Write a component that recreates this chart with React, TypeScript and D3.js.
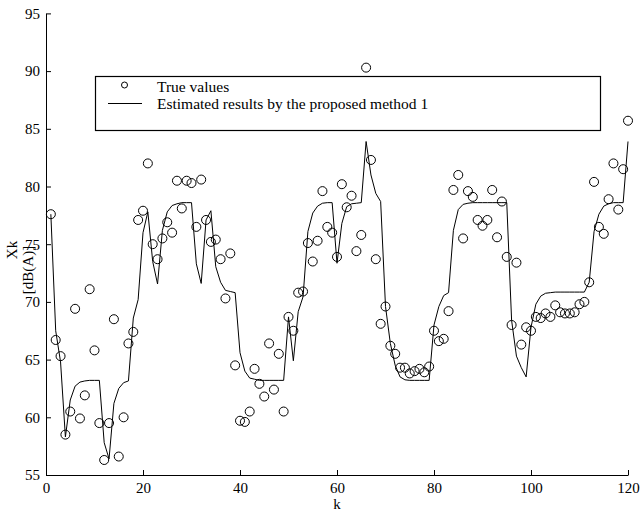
import React, { useEffect, useRef } from 'react';
import * as d3 from 'd3';

// sample index k = 1..120
const kValues: number[] = d3.range(1, 121);

const trueValues: number[] = [
    77.6, 66.7, 65.3, 58.5, 60.5, 69.4, 59.9, 61.9, 71.1, 65.8,
    59.5, 56.3, 59.5, 68.5, 56.6, 60.0, 66.4, 67.4, 77.1, 77.9,
    82.0, 75.0, 73.7, 75.5, 76.9, 76.0, 80.5, 78.1, 80.5, 80.3,
    76.5, 80.6, 77.1, 75.2, 75.4, 73.7, 70.3, 74.2, 64.5, 59.7,
    59.6, 60.5, 64.2, 62.9, 61.8, 66.4, 62.4, 65.5, 60.5, 68.7,
    67.5, 70.8, 70.9, 75.1, 73.5, 75.3, 79.6, 76.5, 76.0, 73.9,
    80.2, 78.2, 79.2, 74.4, 75.8, 90.3, 82.3, 73.7, 68.1, 69.6,
    66.2, 65.5, 64.3, 64.3, 63.8, 64.0, 64.2, 63.9, 64.4, 67.5,
    66.6, 66.8, 69.2, 79.7, 81.0, 75.5, 79.6, 79.1, 77.1, 76.6,
    77.1, 79.7, 75.6, 78.7, 73.9, 68.0, 73.4, 66.3, 67.8, 67.5,
    68.7, 68.6, 69.0, 68.7, 69.7, 69.1, 69.0, 69.0, 69.1, 69.8,
    70.0, 71.7, 80.4, 76.5, 75.9, 78.9, 82.0, 78.0, 81.5, 85.7
];

const estimatedValues: number[] = [
    77.6, 67.5, 64.8, 58.3, 61.5, 62.7, 63.05, 63.15, 63.2, 63.2,
    63.2, 57.8, 56.4, 61.2, 62.5, 63.0, 63.15, 68.6, 70.2, 76.0,
    77.8, 73.5, 71.55, 76.2, 77.8, 78.35, 78.5, 78.6, 78.6, 78.6,
    73.3, 71.6, 77.1, 77.9, 73.05, 71.7, 71.0, 70.9, 70.8, 65.6,
    64.0, 63.4, 63.3, 63.2, 63.2, 63.2, 63.2, 63.2, 63.2, 68.7,
    64.9, 69.15, 70.45, 76.1, 77.7, 78.3, 78.55, 78.6, 78.6, 73.35,
    76.8, 78.25, 78.5, 78.55, 78.6, 83.9, 81.0, 79.4, 78.7, 69.6,
    66.4, 64.5, 63.5, 63.25, 63.2, 63.2, 63.2, 63.2, 63.2, 68.0,
    69.6, 70.55, 70.8, 76.2, 78.0, 78.45, 78.55, 78.6, 78.6, 78.6,
    78.6, 78.6, 78.6, 78.6, 78.6, 68.4, 65.3, 64.3, 63.5, 67.8,
    69.8, 70.5, 70.75, 70.8, 70.85, 70.85, 70.85, 70.85, 70.85, 70.85,
    70.85, 71.7, 76.1, 77.6, 78.3, 78.5, 78.6, 78.6, 78.6, 83.9
];

const xTicks: number[] = [0, 20, 40, 60, 80, 100, 120];
const yTicks: number[] = [55, 60, 65, 70, 75, 80, 85, 90, 95];
const legendLabels: string[] = ['True values', 'Estimated results by the proposed method 1'];

const FONT = '"Liberation Serif", "Times New Roman", Times, serif';
const FONT_SIZE = '15px';

const Chart = () => {
    const ref = useRef<SVGSVGElement>(null);

    useEffect(() => {
        const width = 640;
        const height = 513;
        const margin = { left: 46, right: 12, top: 13.4, bottom: 38 };

        const x = d3.scaleLinear().domain([0, 120]).range([margin.left, width - margin.right]);
        const y = d3.scaleLinear().domain([55, 95]).range([height - margin.bottom, margin.top]);

        const svg = d3.select(ref.current);
        svg.selectAll('*').remove();
        svg.attr('width', width).attr('height', height)
            .attr('font-family', FONT)
            .style('font-family', FONT)
            .style('font-size', FONT_SIZE);

        svg.append('rect').attr('width', width).attr('height', height).attr('fill', 'white');

        // axes (ticks pointing inward, left and bottom only)
        const xAxis = svg.append('g')
            .attr('transform', `translate(0,${y(55)})`)
            .call(d3.axisBottom(x).tickValues(xTicks).tickSizeInner(-5).tickSizeOuter(0).tickPadding(7));
        const yAxis = svg.append('g')
            .attr('transform', `translate(${x(0)},0)`)
            .call(d3.axisLeft(y).tickValues(yTicks).tickSizeInner(-5).tickSizeOuter(0).tickPadding(6));

        [xAxis, yAxis].forEach(g => {
            g.attr('font-family', FONT).attr('font-size', FONT_SIZE);
            g.select('.domain').attr('stroke', '#000').attr('stroke-width', 1);
            g.selectAll('.tick line').attr('stroke', '#000');
            g.selectAll('.tick text').attr('fill', '#000');
        });

        // axis labels
        svg.append('text')
            .attr('x', x(60)).attr('y', 509)
            .attr('text-anchor', 'middle')
            .text('k');

        svg.append('text')
            .attr('transform', 'translate(17,250) rotate(-90)')
            .attr('text-anchor', 'middle')
            .text('Xk');
        svg.append('text')
            .attr('transform', 'translate(33,270) rotate(-90)')
            .attr('text-anchor', 'middle')
            .text('[dB(A)]');

        // estimated line
        const line = d3.line<number>()
            .x((d, i) => x(kValues[i]))
            .y(d => y(d));

        svg.append('path')
            .datum(estimatedValues)
            .attr('fill', 'none')
            .attr('stroke', '#000')
            .attr('stroke-width', 1)
            .attr('d', line);

        // true values
        svg.append('g')
            .selectAll('circle')
            .data(trueValues)
            .join('circle')
            .attr('cx', (d, i) => x(kValues[i]))
            .attr('cy', d => y(d))
            .attr('r', 4.5)
            .attr('fill', 'none')
            .attr('stroke', '#000')
            .attr('stroke-width', 1);

        // legend
        const legend = svg.append('g');
        legend.append('rect')
            .attr('x', 95.5).attr('y', 76.5)
            .attr('width', 505).attr('height', 54)
            .attr('fill', 'white')
            .attr('stroke', '#000')
            .attr('stroke-width', 1.2);
        legend.append('circle')
            .attr('cx', 124.5).attr('cy', 85)
            .attr('r', 3)
            .attr('fill', 'none')
            .attr('stroke', '#000');
        legend.append('line')
            .attr('x1', 108).attr('x2', 142)
            .attr('y1', 103.5).attr('y2', 103.5)
            .attr('stroke', '#000');
        legend.selectAll('text.lab')
            .data(legendLabels)
            .join('text')
            .attr('class', 'lab')
            .attr('x', 157)
            .attr('y', (d, i) => 91.5 + i * 17)
            .style('font-size', '15.5px')
            .text(d => d);
    }, []);

    return <svg ref={ref} style={{ position: 'absolute', left: 0, top: 0 }} />;
};

export default function App() {
    return <Chart />;
}
